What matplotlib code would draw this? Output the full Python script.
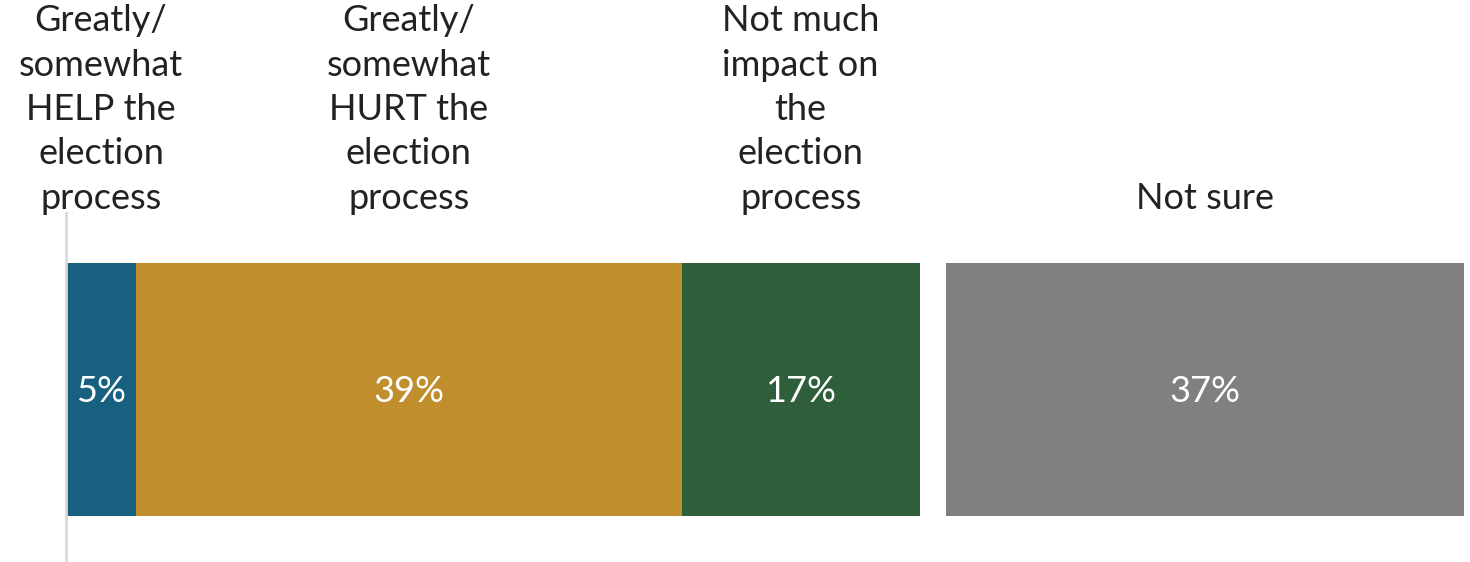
import matplotlib

matplotlib.use("Agg")
import matplotlib.pyplot as plt

# Share of respondents, percent
categories = [
    "Greatly/\nsomewhat\nHELP the\nelection\nprocess",
    "Greatly/\nsomewhat\nHURT the\nelection\nprocess",
    "Not much\nimpact on\nthe\nelection\nprocess",
    "Not sure",
]
values = [5, 39, 17, 37]
colors = ["#17607f", "#c08e2d", "#2f5e3a", "#808080"]
gap_before_last = 1.9

plt.rcParams["font.family"] = ["Lato", "DejaVu Sans"]

fig = plt.figure(figsize=(14.7, 5.62), dpi=100)
ax = fig.add_axes([66 / 1470, 0.0, (1464 - 66) / 1470, (562 - 213) / 562])

left = 0.0
for i, (cat, val, col) in enumerate(zip(categories, values, colors)):
    if i == len(values) - 1:
        left += gap_before_last
    ax.barh(0, val, left=left, height=0.725, color=col, linewidth=0)
    cx = left + val / 2
    ax.text(cx, -0.005, f"{val}%", ha="center", va="center", color="white", fontsize=26)
    ax.text(cx, 0.995, cat, ha="center", va="bottom", color="#222222",
            fontsize=26, linespacing=1.42, transform=ax.get_xaxis_transform(),
            clip_on=False)
    left += val

ax.set_xlim(0, left)
ax.set_ylim(-0.494, 0.506)
for side in ["top", "right", "bottom"]:
    ax.spines[side].set_visible(False)
ax.spines["left"].set_color("#d9d9d9")
ax.spines["left"].set_linewidth(2)
ax.set_xticks([])
ax.set_yticks([])
ax.patch.set_alpha(0)

fig.savefig("out.png", dpi=100)
